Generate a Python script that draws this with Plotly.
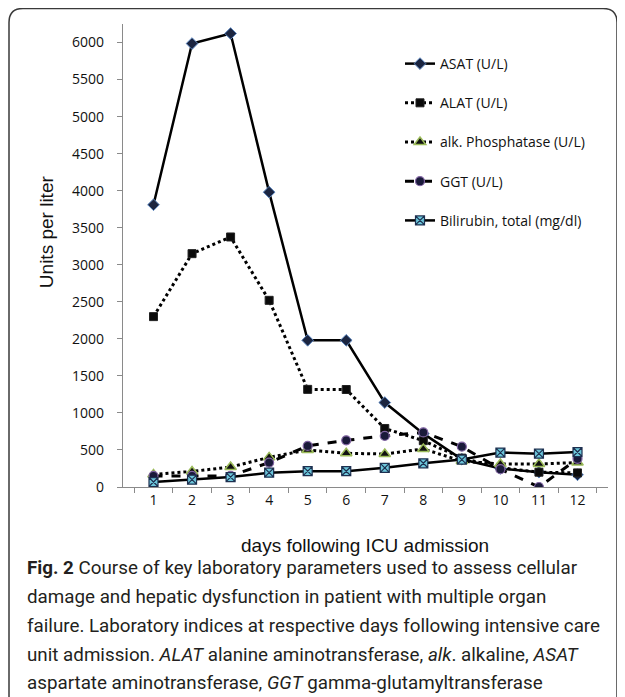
import plotly.graph_objects as go

days = [str(d) for d in range(1, 13)]
asat = [3810, 5986, 6122, 3980, 1980, 1980, 1140, 720, 375, 250, 200, 165]
alat = [2300, 3150, 3375, 2520, 1318, 1316, 790, 625, 390, 260, 200, 190]
alkp = [170, 210, 270, 400, 500, 455, 445, 514, 350, 310, 310, 330]
ggt = [150, 150, 150, 330, 555, 630, 690, 737, 545, 240, 0, 380]
bili = [67, 99, 134, 193, 214, 213, 259, 320, 370, 465, 450, 472]

names = ["ASAT (U/L)", "ALAT (U/L)", "alk. Phosphatase (U/L)", "GGT (U/L)",
         "Bilirubin, total (mg/dl)"]

OFF = 8  # default page body margin
W, H = 625 - OFF, 697 - OFF
# plot area in screenshot pixels
SL, SR, ST, SB = 123, 608, 24, 486.7
L, R, T, B = SL - OFF, SR - OFF, ST - OFF, SB - OFF


def px(x):
    return (x - SL) / (SR - SL)


def py(y):
    return (SB - y) / (SB - ST)


fig = go.Figure()

styles = [
    dict(series=asat, dash="solid", width=2.5,
         marker=dict(symbol="diamond", size=9, color="#1b2540",
                     line=dict(color="#5b86c0", width=1))),
    dict(series=alat, dash="dot", width=3,
         marker=dict(symbol="square", size=8, color="#0a0a0a",
                     line=dict(color="#222222", width=1))),
    dict(series=alkp, dash="dot", width=3,
         marker=dict(symbol="triangle-up", size=10, color="#111111",
                     line=dict(color="#9bbb59", width=1.5))),
    dict(series=ggt, dash="dash", width=3,
         marker=dict(symbol="circle", size=9, color="#1a1a3a",
                     line=dict(color="#8064a2", width=1.2))),
    dict(series=bili, dash="solid", width=2.5,
         marker=dict(symbol="square-x", size=9, color="#6cc6da",
                     line=dict(color="#1d3050", width=1.2))),
]

for i, (name, st) in enumerate(zip(names, styles)):
    fig.add_trace(go.Scatter(
        x=days, y=st["series"], name=name, mode="lines+markers",
        line=dict(color="black", width=st["width"], dash=st["dash"]),
        marker=st["marker"], legendgroup=f"g{i}",
    ))

axis_col = "#8a8a8a"
fig.update_layout(
    width=W, height=H,
    margin=dict(l=L, r=W - R, t=T, b=H - B),
    paper_bgcolor="white", plot_bgcolor="white",
    showlegend=True,
    legend=dict(x=px(400), y=py(48), xanchor="left", yanchor="top",
                traceorder="grouped", tracegroupgap=18,
                font=dict(family="Open Sans", size=14, color="#111111"),
                bgcolor="rgba(0,0,0,0)"),
    xaxis=dict(type="category", categoryorder="array", categoryarray=days,
               tickson="boundaries", ticks="outside", ticklen=5,
               tickcolor=axis_col, showline=True, linecolor=axis_col,
               linewidth=1.3, showgrid=False, zeroline=False,
               tickfont=dict(family="Open Sans", size=14, color="#111111")),
    yaxis=dict(range=[0, 6250], tickvals=list(range(0, 6001, 500)),
               ticks="outside", ticklen=5, tickcolor=axis_col,
               showline=True, linecolor=axis_col, linewidth=1.3,
               showgrid=False, zeroline=False, ticklabelstandoff=10,
               tickfont=dict(family="Open Sans", size=14, color="#111111")),
)

# frame with rounded corners
x0, x1 = px(9), px(617)
y0, y1 = py(8.5), py(720)
rx, ry = 14 / (SR - SL), 14 / (SB - ST)
path = (f"M {x0},{y1} L {x0},{y0 - ry} Q {x0},{y0} {x0 + rx},{y0} "
        f"L {x1 - rx},{y0} Q {x1},{y0} {x1},{y0 - ry} L {x1},{y1}")
fig.add_shape(type="path", path=path, xref="paper", yref="paper",
              line=dict(color="#3a3a3a", width=1.5))

fig.add_annotation(text="Units per liter", textangle=-90, x=px(46), y=py(232),
                   xref="paper", yref="paper", xanchor="center", yanchor="middle",
                   showarrow=False,
                   font=dict(family="Liberation Sans", size=19, color="#111111"))
fig.add_annotation(text="days following ICU admission", x=px(365), y=py(545),
                   xref="paper", yref="paper", xanchor="center", yanchor="middle",
                   showarrow=False,
                   font=dict(family="Liberation Sans", size=19, color="#111111"))

caption = [
    "<b>Fig. 2</b> Course of key laboratory parameters used to assess cellular",
    "damage and hepatic dysfunction in patient with multiple organ",
    "failure. Laboratory indices at respective days following intensive care",
    "unit admission. <i>ALAT</i> alanine aminotransferase, <i>alk</i>. alkaline, <i>ASAT</i>",
    "aspartate aminotransferase, <i>GGT</i> gamma-glutamyltransferase",
]
cap_y = [568, 597, 626, 655, 683]
for line, yy in zip(caption, cap_y):
    fig.add_annotation(text=line, x=px(25), y=py(yy), xref="paper", yref="paper",
                       xanchor="left", yanchor="middle", showarrow=False,
                       font=dict(family="Roboto", size=18.8, color="#231f20"))

fig.write_html("out.html")
